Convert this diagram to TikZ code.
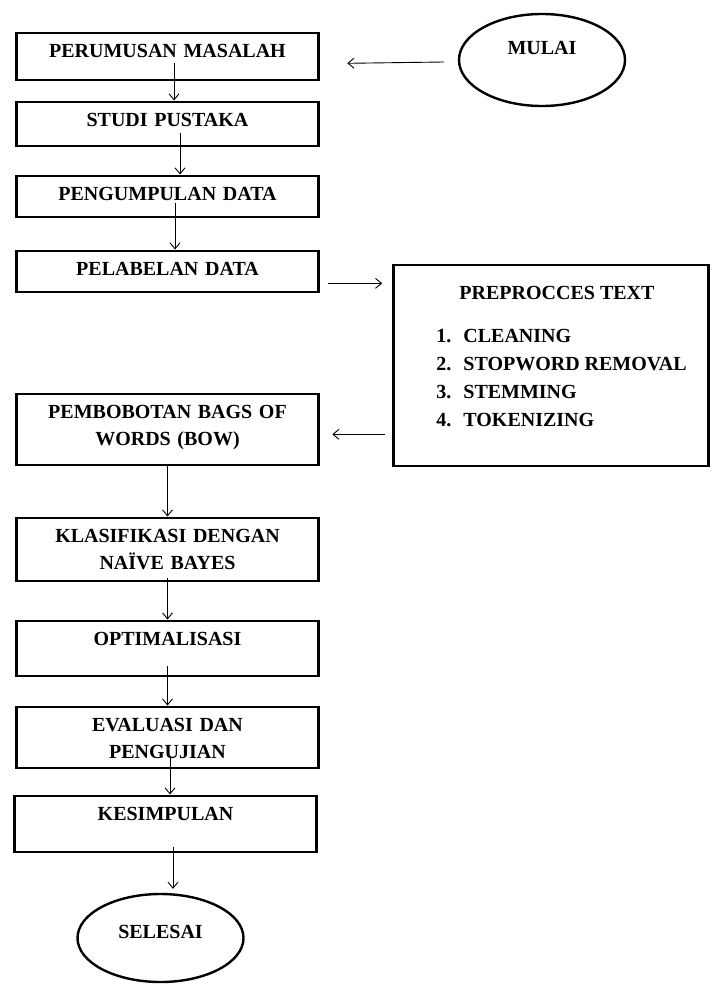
\documentclass[tikz,border=0pt]{standalone}
\usepackage{fontspec}
\setmainfont{Liberation Serif}
\usetikzlibrary{arrows.meta,shapes.geometric}

\begin{document}
\begin{tikzpicture}[x=1pt, y=-1pt,
  box/.style={draw, line width=2.6pt, text width=290pt, inner xsep=6pt, inner ysep=0pt,
    align=center, anchor=north, text height=24.5pt, font=\fontsize{20}{27}\selectfont\bfseries},
  oval/.style={draw, ellipse, line width=2.4pt, minimum width=166pt, minimum height=92pt,
    inner sep=0pt, font=\fontsize{20}{27}\selectfont\bfseries},
  arr/.style={-{Straight Barb[length=6pt,width=10pt]}, line width=0.9pt}]
\useasboundingbox (0,0) rectangle (713,985);

\node[oval, text height=10pt, text depth=22pt] (mulai) at (542,60) {MULAI};
\node[box, text depth=22.5pt] (rumusan) at (167.5,31.5) {PERUMUSAN MASALAH};
\node[box, text depth=19.5pt] (studi) at (167.5,100.5) {STUDI PUSTAKA};
\node[box, text depth=16.5pt] (kumpul) at (167.5,174.5) {PENGUMPULAN DATA};
\node[box, text depth=16.5pt] (pelabelan) at (167.5,249.5) {PELABELAN DATA};
\node[draw, line width=2.6pt, anchor=north, minimum width=315pt, inner xsep=20.5pt, inner ysep=0pt,
  text height=34.5pt, text depth=166.5pt, font=\fontsize{20}{28}\selectfont\bfseries] (prepro) at (551,263.5)
  {\begin{tabular}[t]{@{\hspace{21pt}}l@{\hspace{12pt}}l@{}}
   \multicolumn{2}{@{\hspace{12pt}}c@{}}{PREPROCCES TEXT}\\[15pt]
   1. & CLEANING\\
   2. & STOPWORD REMOVAL\\
   3. & STEMMING\\
   4. & TOKENIZING
   \end{tabular}};
\node[box, text depth=46.5pt] (bobot) at (167.5,392.5) {PEMBOBOTAN BAGS OF\\WORDS (BOW)};
\node[box, text depth=38.5pt] (klasif) at (167.5,516.5) {KLASIFIKASI DENGAN\\NAÏVE BAYES};
\node[box, text depth=30.5pt] (optim) at (167.5,619.5) {OPTIMALISASI};
\node[box, text depth=36.5pt] (eval) at (167.5,705.5) {EVALUASI DAN\\PENGUJIAN};
\node[box, text depth=31.5pt] (simpul) at (165.5,794.5) {KESIMPULAN};
\node[oval, text height=10pt, text depth=10pt, minimum height=88pt] (selesai) at (160.5,938) {SELESAI};

\draw[arr] ([xshift=-14pt,yshift=-2pt]mulai.west) -- ([xshift=27.5pt,yshift=-7pt]rumusan.east);
\draw[arr] ([xshift=6.5pt,yshift=18pt]rumusan.south) -- ([xshift=6.5pt]studi.north);
\draw[arr] ([xshift=12.5pt,yshift=14.5pt]studi.south) -- ([xshift=12.5pt]kumpul.north);
\draw[arr] ([xshift=7.5pt,yshift=15.5pt]kumpul.south) -- ([xshift=7.5pt]pelabelan.north);
\draw[arr] ([xshift=8pt,yshift=-12pt]pelabelan.east) -- ([xshift=-10pt,yshift=82pt]prepro.west);
\draw[arr] ([xshift=-7.5pt,yshift=-69pt]prepro.west) -- ([xshift=12.5pt,yshift=-5pt]bobot.east);
\draw[arr] (bobot.south) -- (klasif.north);
\draw[arr] ([yshift=4.5pt]klasif.south) -- (optim.north);
\draw[arr] ([yshift=11.5pt]optim.south) -- (eval.north);
\draw[arr] ([xshift=2.5pt,yshift=13.5pt]eval.south) -- ([xshift=4.5pt]simpul.north);
\draw[arr] ([xshift=7.5pt,yshift=6.5pt]simpul.south) -- ([xshift=12.5pt,yshift=4pt]selesai.north);
\end{tikzpicture}
\end{document}
